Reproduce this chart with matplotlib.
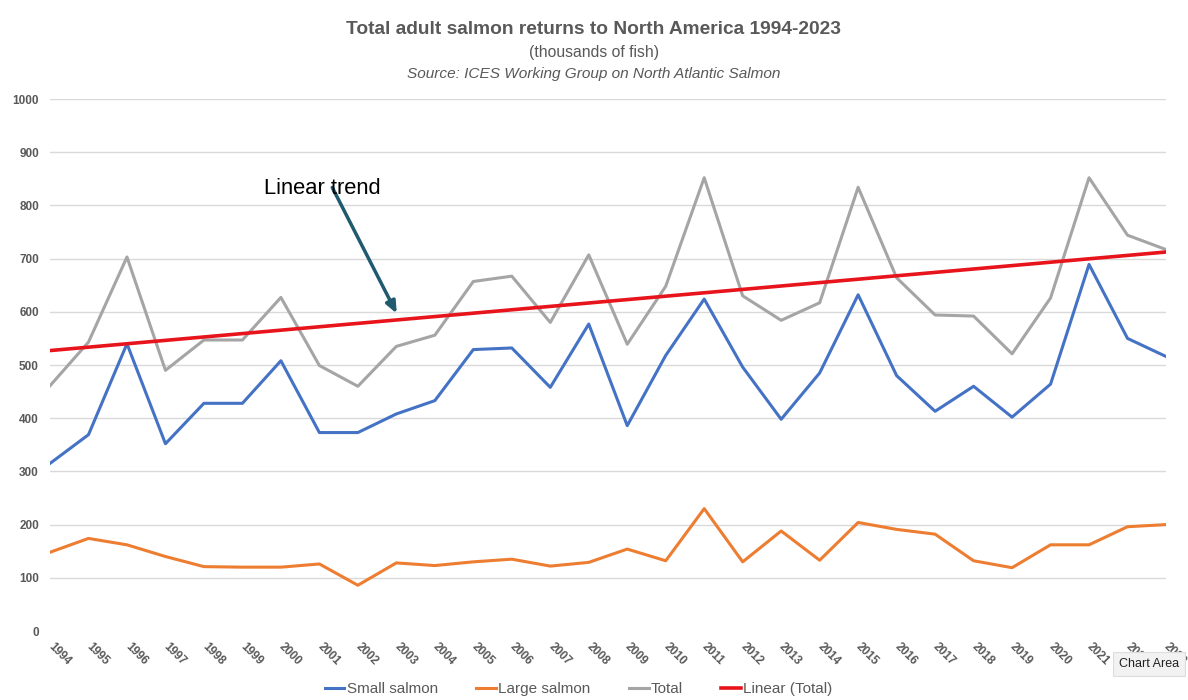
import matplotlib
matplotlib.use("Agg")
import matplotlib.pyplot as plt
import numpy as np

years = list(range(1994, 2024))
small_salmon = [315, 369, 540, 352, 428, 428, 508, 373, 373, 408, 433, 529, 532, 458, 577,
                386, 518, 624, 496, 398, 485, 632, 480, 413, 460, 402, 464, 689, 550, 516]
large_salmon = [148, 174, 162, 140, 121, 120, 120, 126, 86, 128, 123, 130, 135, 122, 129,
                154, 132, 230, 130, 188, 133, 204, 191, 182, 132, 119, 162, 162, 196, 200]
total = [461, 543, 703, 490, 547, 547, 627, 499, 460, 535, 556, 657, 667, 580, 707,
         539, 648, 852, 630, 584, 617, 834, 664, 594, 592, 521, 626, 852, 744, 717]
y_ticks = [0, 100, 200, 300, 400, 500, 600, 700, 800, 900, 1000]

plt.rcParams['font.family'] = ['Liberation Sans', 'DejaVu Sans']
grey_txt = '#595959'

fig = plt.figure(figsize=(11.88, 7.0), dpi=100)
ax = fig.add_axes([50/1188, 69/700, 1116/1188, 532/700])

x = np.arange(len(years))
coef = np.polyfit(x, total, 1)
trend = np.polyval(coef, x)

ax.plot(x, small_salmon, color='#4472C4', lw=2.2, label='Small salmon', zorder=3)
ax.plot(x, large_salmon, color='#ED7D31', lw=2.2, label='Large salmon', zorder=3)
ax.plot(x, total, color='#A5A5A5', lw=2.2, label='Total', zorder=3)
ax.plot(x, trend, color='#E8141B', lw=2.6, label='Linear (Total)', zorder=4)

ax.set_xlim(0, len(years) - 1)
ax.set_ylim(0, 1000)
ax.set_yticks(y_ticks)
ax.set_yticklabels([str(v) for v in y_ticks], fontsize=8.5, fontweight='bold', color=grey_txt)
ax.set_xticks(x)
ax.set_xticklabels([str(y) for y in years], rotation=-45, ha='left', va='center',
                   rotation_mode='anchor', fontsize=8.5, fontweight='bold', color=grey_txt)
ax.tick_params(axis='both', length=0)
ax.tick_params(axis='y', pad=8)
ax.tick_params(axis='x', pad=10)
ax.grid(axis='y', color='#D9D9D9', lw=1)
ax.get_ygridlines()[0].set_visible(False)
ax.set_axisbelow(True)
for s in ax.spines.values():
    s.set_visible(False)

fig.text(0.5, 1 - 30/700, 'Total adult salmon returns to North America 1994-2023', ha='center', va='center',
         fontsize=13.8, fontweight='bold', color=grey_txt)
fig.text(0.5, 1 - 53/700, '(thousands of fish)', ha='center', va='center', fontsize=11.3, color=grey_txt)
fig.text(0.5, 1 - 74/700, 'Source: ICES Working Group on North Atlantic Salmon', ha='center', va='center',
         fontsize=11.1, style='italic', color=grey_txt)

fig.text(322/1188, 1 - 189/700, 'Linear trend', ha='center', va='center', fontsize=15.8, color='black')
ax.annotate('', xy=(398/1188, 1 - 316/700), xytext=(331/1188, 1 - 185/700),
            xycoords='figure fraction', textcoords='figure fraction',
            arrowprops=dict(arrowstyle='-|>,head_length=0.7,head_width=0.3', color='#1F5A6E', lw=2.5))

fig.legend(loc='center', bbox_to_anchor=(0.487, 1 - 689/700), ncol=4, frameon=False,
           fontsize=11, handlelength=1.3, handletextpad=0.15, columnspacing=2.5, labelcolor=grey_txt)

fig.text(1149/1188, 1 - 664/700, 'Chart Area', ha='center', va='center', fontsize=9, color='#222222',
         bbox=dict(boxstyle='square,pad=0.45', fc='#F2F2F2', ec='#DDDDDD', lw=0.8), zorder=10)

fig.savefig('out.png', dpi=100)
